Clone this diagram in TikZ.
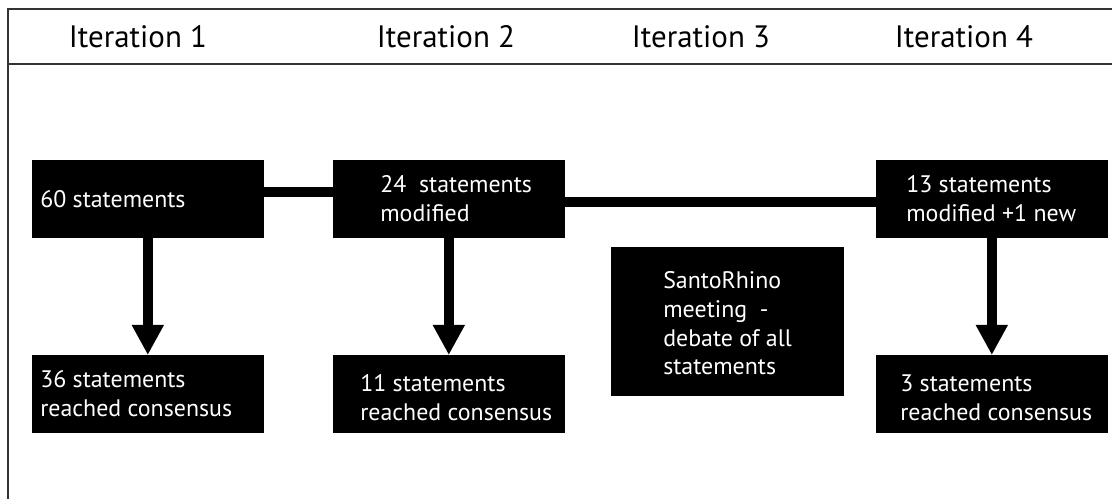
\documentclass[tikz,border=0pt]{standalone}
\usepackage{fontspec}
\setmainfont{PT Sans}
\usetikzlibrary{arrows.meta}
\tikzset{
  stage/.style={fill=black, draw=black, anchor=north west, minimum width=5.775cm, minimum height=1.925cm, inner sep=0pt},
  stagetext/.style={text=white, align=left, anchor=west, inner sep=0pt, font=\fontsize{17}{20.5}\selectfont},
  head/.style={font=\fontsize{22}{26}\selectfont},
  flow/.style={line width=0.25cm, -{Triangle[width=0.75cm,length=0.75cm]}},
  link/.style={line width=0.25cm},
  frame/.style={color=gray!40!black, line width=1.2pt}
}
\begin{document}
\begin{tikzpicture}[x=0.025cm,y=-0.025cm]
\useasboundingbox (0,0) rectangle (1112,499);
\draw[frame] (8,499) -- (8,9) -- (1112,9);
\draw[frame, line width=2pt] (8,64) -- (1112,64);
% header
\node[head] (h1) at (138,37) {Iteration 1};
\node[head] (h2) at (446,37) {Iteration 2};
\node[head] (h3) at (701,37) {Iteration 3};
\node[head] (h4) at (964,37) {Iteration 4};
% stages
\node[stage, label={[stagetext, xshift=0.2cm]west:60 statements}] (a1) at (32,160) {};
\node[stage, label={[stagetext, xshift=1.175cm]west:24~ statements\\modified}] (a2) at (333,160) {};
\node[stage, label={[stagetext, xshift=0.75cm]west:13 statements\\modified +1 new}] (a4) at (876,160) {};
\node[stage, label={[stagetext, xshift=0.2cm]west:36 statements\\reached consensus}] (b1) at (32,355) {};
\node[stage, label={[stagetext, xshift=0.675cm, yshift=-0.1cm]west:11 statements\\reached consensus}] (b2) at (333,355) {};
\node[stage, label={[stagetext, xshift=0.6cm, yshift=-0.1cm]west:3 statements\\reached consensus}] (b4) at (876,355) {};
\node[stage, minimum width=5.8cm, minimum height=3.7cm, label={[stagetext, xshift=1.3cm, yshift=-0.05cm]west:SantoRhino\\meeting~ -\\debate of all\\statements}] (sr) at (611,247) {};
% connectors
\draw[link] ([yshift=0.16cm]a1.east) -- ([yshift=0.16cm]a2.west);
\draw[link] ([yshift=-0.09cm]a2.east) -- ([yshift=-0.09cm]a4.west);
\draw[flow] (a1) -- (b1);
\draw[flow] (a2) -- (b2);
\draw[flow] (a4) -- (b4);
\end{tikzpicture}
\end{document}
